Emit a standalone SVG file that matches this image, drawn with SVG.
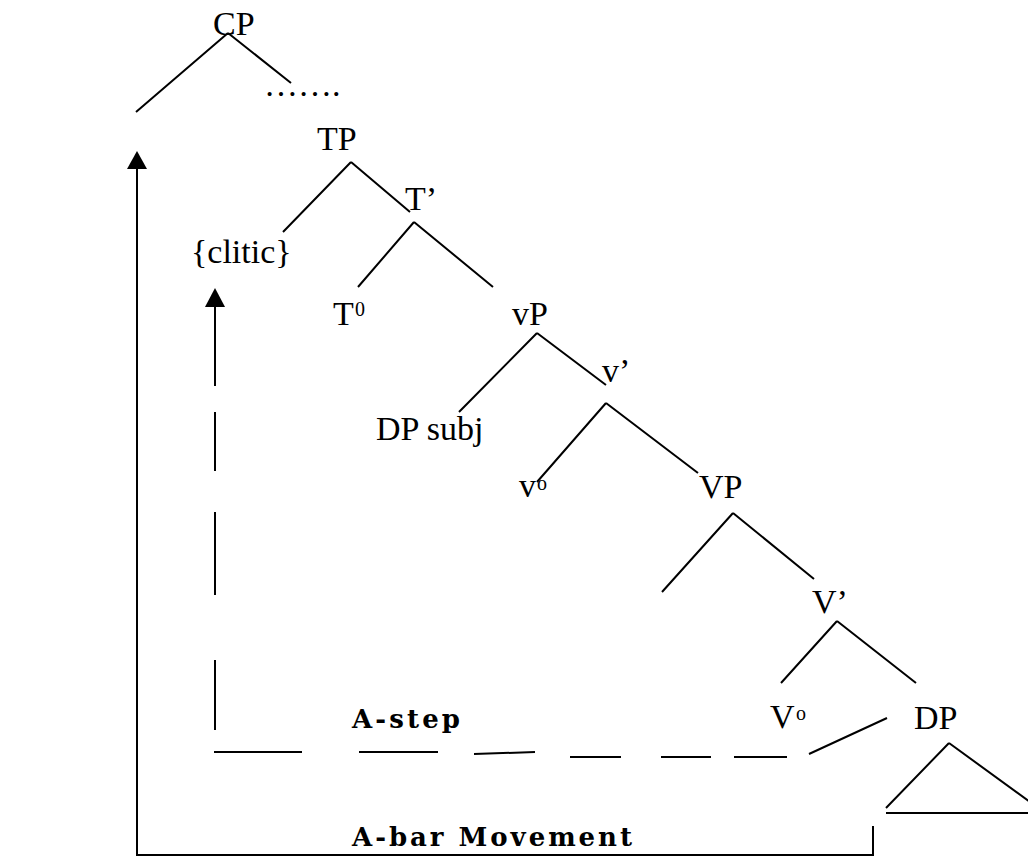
<svg xmlns="http://www.w3.org/2000/svg" width="1028" height="861" viewBox="0 0 1028 861">
<style>
.lbl{font-family:"Liberation Serif","Times New Roman",serif;font-size:34px;fill:#000}
.sup{font-family:"Liberation Serif","Times New Roman",serif;font-size:20px;fill:#000}
.mv{font-family:"DejaVu Serif","Liberation Serif",serif;font-size:26px;font-weight:bold;fill:#000}
.ln{stroke:#000;stroke-width:2;fill:none}
.ah{fill:#000;stroke:none}
</style>
<rect width="1028" height="861" fill="#fff"/>
<g id="connectors">
  <path class="ln" d="M228,33 L136,112 M228,33 L291,83"/>
  <path class="ln" d="M351,162 L283,232 M351,162 L410,212"/>
  <path class="ln" d="M414,222 L358,287 M414,222 L493,287"/>
  <path class="ln" d="M537,333 L459,412 M537,333 L606,385"/>
  <path class="ln" d="M606,403 L537,482 M606,403 L698,473"/>
  <path class="ln" d="M733,513 L662,592 M733,513 L814,579"/>
  <path class="ln" d="M837,621 L781,683 M837,621 L916,683"/>
  <path class="ln" d="M949,743 L886,808 M949,743 L1030,802 M886,813 L1028,813"/>
  <g id="a-bar-movement">
    <path class="ln" d="M873,826 L873,855 L137,855 L137,168"/>
    <polygon class="ah" points="137,151 127,169 147,169"/>
  </g>
  <g id="a-step">
    <path class="ln" d="M215,307 L215,386 M215,412 L215,471 M215,512 L215,595 M215,660 L215,730"/>
    <polygon class="ah" points="215,288 205,307 225,307"/>
    <path class="ln" d="M214,752 L302,752 M359,752 L438,752 M474,754 L535,752 M570,757 L621,757 M661,757 L711,757 M734,757 L787,757 M809,754 L887,718"/>
  </g>
</g>
<g id="node-CP"><text class="lbl" x="213" y="35">CP</text></g>
<g id="node-dots"><text class="lbl" x="264" y="96">…….</text></g>
<g id="node-TP"><text class="lbl" x="317" y="150">TP</text></g>
<g id="node-Tbar"><text class="lbl" x="405" y="210">T’</text></g>
<g id="node-clitic"><text class="lbl" x="191" y="263">{clitic}</text></g>
<g id="node-T0"><text class="lbl" x="333" y="325">T</text><text class="sup" x="355" y="316">0</text></g>
<g id="node-vP"><text class="lbl" x="512" y="325">vP</text></g>
<g id="node-vbar"><text class="lbl" x="602" y="382">v’</text></g>
<g id="node-DPsubj"><text class="lbl" x="376" y="440">DP subj</text></g>
<g id="node-v0"><text class="lbl" x="519" y="497">v</text><text class="sup" x="537" y="490">o</text></g>
<g id="node-VP"><text class="lbl" x="699" y="498">VP</text></g>
<g id="node-Vbar"><text class="lbl" x="812" y="613">V’</text></g>
<g id="node-V0"><text class="lbl" x="770" y="728">V</text><text class="sup" x="796" y="720">o</text></g>
<g id="node-DP"><text class="lbl" x="914" y="729">DP</text></g>
<g id="label-A-step"><text class="mv" x="352" y="728" textLength="108" lengthAdjust="spacing">A-step</text></g>
<g id="label-A-bar"><text class="mv" x="352" y="846" textLength="280" lengthAdjust="spacing">A-bar Movement</text></g>
</svg>
